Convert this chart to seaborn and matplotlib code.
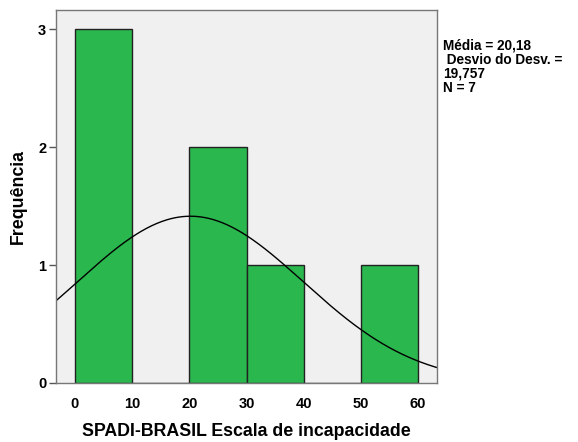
import numpy as np
import pandas as pd
import matplotlib
matplotlib.use("Agg")
import matplotlib.pyplot as plt
import seaborn as sns

# --- Data ---
bin_edges = [0, 10, 20, 30, 40, 50, 60]
bin_counts = [3, 0, 2, 1, 0, 1]
mean_val = 20.18
sd_val = 19.757
n_val = 7
x_ticks = [0, 10, 20, 30, 40, 50, 60]
y_ticks = [0, 1, 2, 3]

sns.set_style("white")
plt.rcParams["font.family"] = ["Liberation Sans", "DejaVu Sans"]
plt.rcParams["font.weight"] = "bold"
plt.rcParams["text.color"] = "black"
plt.rcParams["axes.labelcolor"] = "black"
plt.rcParams["xtick.color"] = "black"
plt.rcParams["ytick.color"] = "black"

df = pd.DataFrame({"left": bin_edges[:-1], "count": bin_counts})

fig = plt.figure(figsize=(5.78, 4.42), dpi=100)
ax = fig.add_axes([0.0969, 0.1335, 0.6592, 0.8435])
ax.set_facecolor("#f0f0f0")

sns.histplot(
    data=df,
    x="left",
    weights="count",
    bins=bin_edges,
    ax=ax,
    color="#2ab74e",
    alpha=1,
    edgecolor="#222222",
    linewidth=1,
)

# fitted normal curve, scaled to counts
xs = np.linspace(-3.4, 63.4, 300)
binwidth = bin_edges[1] - bin_edges[0]
ys = n_val * binwidth * np.exp(-0.5 * ((xs - mean_val) / sd_val) ** 2) / (sd_val * np.sqrt(2 * np.pi))
sns.lineplot(x=xs, y=ys, ax=ax, color="black", linewidth=1)

ax.set_xlim(-3.32, 63.3)
ax.set_ylim(0, 3.16)
ax.set_xticks(x_ticks)
ax.set_yticks(y_ticks)
ax.tick_params(axis="y", left=True, length=5, width=1, color="#555555", labelcolor="black", labelsize=10.5, pad=2)
ax.tick_params(axis="x", bottom=False, length=0, labelcolor="black", labelsize=10.5, pad=10)
for lab in ax.get_xticklabels() + ax.get_yticklabels():
    lab.set_fontweight("bold")
for sp in ax.spines.values():
    sp.set_color("#777777")
    sp.set_linewidth(1)

ax.set_xlabel("SPADI-BRASIL Escala de incapacidade", fontsize=12.8, fontweight="bold", labelpad=9)
ax.set_ylabel("Frequência", fontsize=12.8, fontweight="bold", labelpad=8)

fig.text(
    0.766, 0.912,
    "Média = 20,18\n Desvio do Desv. =\n19,757\nN = 7",
    fontsize=9.8, fontweight="bold", va="top", ha="left", linespacing=1.0,
)

fig.savefig("out.png", dpi=100)
